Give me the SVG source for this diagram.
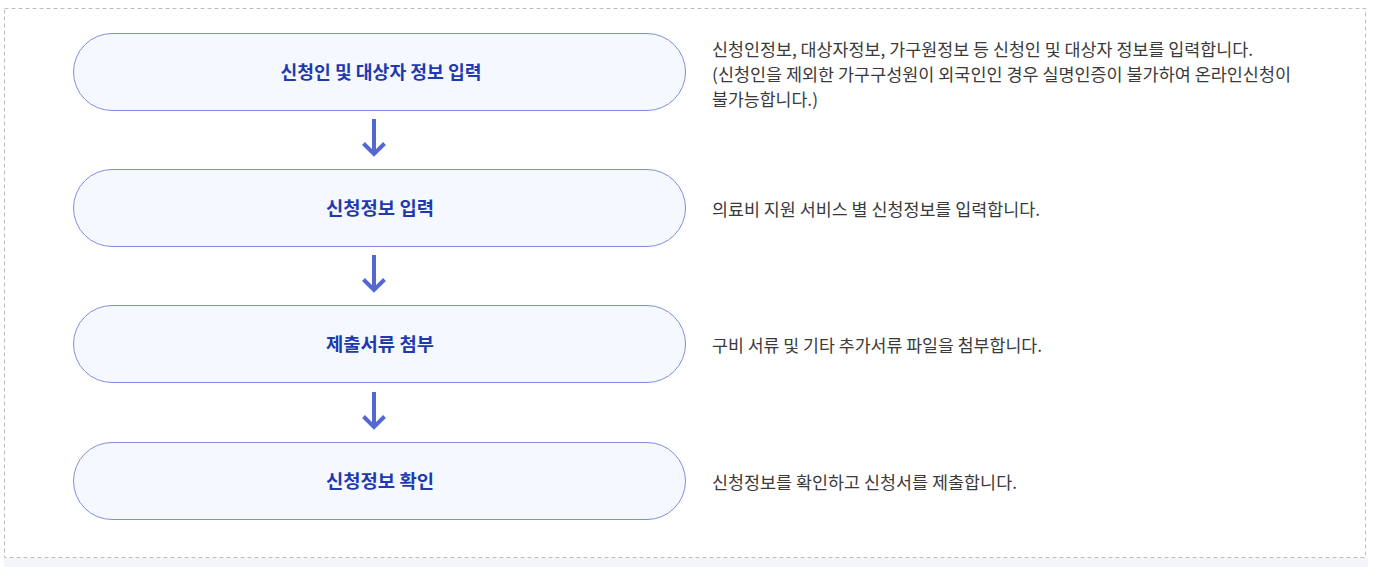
<svg xmlns="http://www.w3.org/2000/svg" width="1374" height="567" viewBox="0 0 1374 567">
<style>
.node rect{fill:#f5f8ff;stroke:#7f8ee0;stroke-width:1}
.title{font-family:"Noto Sans CJK KR","Noto Sans",sans-serif;font-size:18px;font-weight:bold;fill:#1e3aae;text-anchor:middle}
.desc{font-family:"Noto Sans CJK KR","Noto Sans",sans-serif;font-size:17px;fill:#3a3a3a}
.arrow{stroke:#5467d3;stroke-width:4;fill:none}
</style>
<rect x="4" y="558" width="1364" height="9" fill="#f3f5f8"/>
<rect x="4.5" y="8.5" width="1361" height="549" fill="#ffffff" stroke="#bdbdbd" stroke-width="1" stroke-dasharray="4,3"/>
<g id="connectors">
<path class="arrow" d="M374 119V154M363.5 143.5L374 154L384.5 143.5"/>
<path class="arrow" d="M374 255V290M363.5 279.5L374 290L384.5 279.5"/>
<path class="arrow" d="M374 392V427M363.5 416.5L374 427L384.5 416.5"/>
</g>
<g id="node1" class="node">
<rect x="73.5" y="33.5" width="612" height="77" rx="38.5"/>
<text class="title" x="381" y="79" textLength="201" lengthAdjust="spacingAndGlyphs">신청인 및 대상자 정보 입력</text>
</g>
<g id="node2" class="node">
<rect x="73.5" y="169.5" width="612" height="77" rx="38.5"/>
<text class="title" x="380" y="215" textLength="108" lengthAdjust="spacingAndGlyphs">신청정보 입력</text>
</g>
<g id="node3" class="node">
<rect x="73.5" y="305.5" width="612" height="77" rx="38.5"/>
<text class="title" x="380" y="351" textLength="108" lengthAdjust="spacingAndGlyphs">제출서류 첨부</text>
</g>
<g id="node4" class="node">
<rect x="73.5" y="442.5" width="612" height="77" rx="38.5"/>
<text class="title" x="380" y="488" textLength="108" lengthAdjust="spacingAndGlyphs">신청정보 확인</text>
</g>
<g id="desc1">
<text class="desc" x="712" y="56" textLength="541" lengthAdjust="spacingAndGlyphs">신청인정보, 대상자정보, 가구원정보 등 신청인 및 대상자 정보를 입력합니다.</text>
<text class="desc" x="712" y="81" textLength="579" lengthAdjust="spacingAndGlyphs">(신청인을 제외한 가구구성원이 외국인인 경우 실명인증이 불가하여 온라인신청이</text>
<text class="desc" x="712" y="106" textLength="106" lengthAdjust="spacingAndGlyphs">불가능합니다.)</text>
</g>
<g id="desc2"><text class="desc" x="712" y="216" textLength="328" lengthAdjust="spacingAndGlyphs">의료비 지원 서비스 별 신청정보를 입력합니다.</text></g>
<g id="desc3"><text class="desc" x="712" y="352" textLength="330" lengthAdjust="spacingAndGlyphs">구비 서류 및 기타 추가서류 파일을 첨부합니다.</text></g>
<g id="desc4"><text class="desc" x="712" y="489" textLength="305" lengthAdjust="spacingAndGlyphs">신청정보를 확인하고 신청서를 제출합니다.</text></g>
</svg>
